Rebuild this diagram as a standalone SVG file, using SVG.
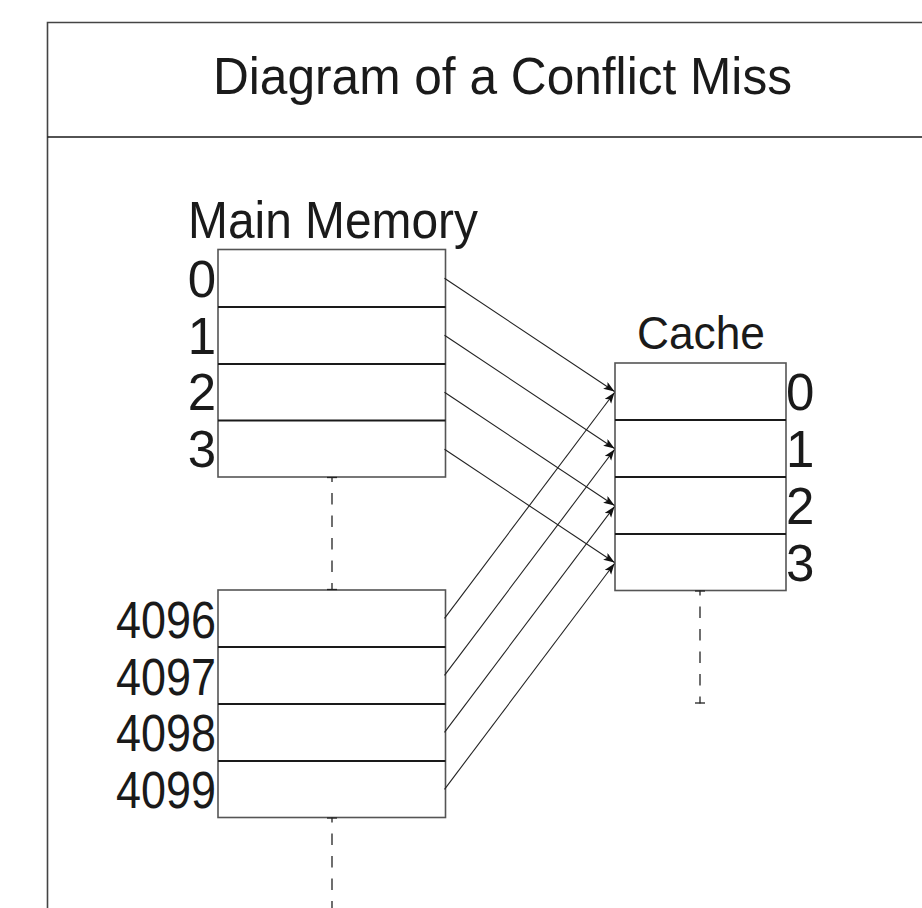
<svg xmlns="http://www.w3.org/2000/svg" width="922" height="908" viewBox="0 0 922 908">
  <style>
    .frame { fill: none; stroke: #444; stroke-width: 1.6; }
    .sep { stroke: #1a1a1a; stroke-width: 1.6; }
    .box { fill: #fff; stroke: #555; stroke-width: 1.6; }
    .row { stroke: #1a1a1a; stroke-width: 1.8; }
    .lbl { font-family: "Liberation Sans", Arial, sans-serif; fill: #1a1a1a; }
    .dash { stroke: #222; stroke-width: 1.3; fill: none; stroke-dasharray: 11.5 11; }
    .tick { stroke: #222; stroke-width: 1.3; }
    .arr { stroke: #222; stroke-width: 1.1; fill: none; marker-end: url(#head); }
  </style>
  <defs>
    <marker id="head" markerUnits="userSpaceOnUse" markerWidth="13" markerHeight="10" refX="11" refY="4" orient="auto">
      <path d="M0,0 L11,4 L0,8 L2.5,4 z" fill="#111"/>
    </marker>
  </defs>

  <rect width="922" height="908" fill="#fff"/>

  <!-- outer frame and title band -->
  <g id="frame">
    <path class="frame" d="M922,22.5 H47.5 V908"/>
    <line class="sep" x1="47.5" y1="137" x2="922" y2="137"/>
    <text class="lbl" x="213" y="94" font-size="52" textLength="579" lengthAdjust="spacingAndGlyphs">Diagram of a Conflict Miss</text>
  </g>

  <!-- main memory, first block -->
  <g id="memory-top">
    <text class="lbl" x="188" y="238" font-size="52" textLength="290" lengthAdjust="spacingAndGlyphs">Main Memory</text>
    <rect class="box" x="218" y="249.5" width="227.5" height="227.5"/>
    <line class="row" x1="218" y1="307" x2="445.5" y2="307"/>
    <line class="row" x1="218" y1="364" x2="445.5" y2="364"/>
    <line class="row" x1="218" y1="420.5" x2="445.5" y2="420.5"/>
    <text class="lbl" x="216" y="297" font-size="51" text-anchor="end">0</text>
    <text class="lbl" x="216" y="353.5" font-size="51" text-anchor="end">1</text>
    <text class="lbl" x="216" y="410" font-size="51" text-anchor="end">2</text>
    <text class="lbl" x="216" y="467" font-size="51" text-anchor="end">3</text>
  </g>

  <!-- main memory, second block -->
  <g id="memory-bottom">
    <rect class="box" x="218" y="590" width="227.5" height="227.5"/>
    <line class="row" x1="218" y1="647" x2="445.5" y2="647"/>
    <line class="row" x1="218" y1="704" x2="445.5" y2="704"/>
    <line class="row" x1="218" y1="761" x2="445.5" y2="761"/>
    <text class="lbl" x="116" y="637.5" font-size="51" textLength="100" lengthAdjust="spacingAndGlyphs">4096</text>
    <text class="lbl" x="116" y="694.5" font-size="51" textLength="100" lengthAdjust="spacingAndGlyphs">4097</text>
    <text class="lbl" x="116" y="751" font-size="51" textLength="100" lengthAdjust="spacingAndGlyphs">4098</text>
    <text class="lbl" x="116" y="808" font-size="51" textLength="100" lengthAdjust="spacingAndGlyphs">4099</text>
  </g>

  <!-- cache -->
  <g id="cache">
    <text class="lbl" x="637" y="349" font-size="46" textLength="128" lengthAdjust="spacingAndGlyphs">Cache</text>
    <rect class="box" x="615" y="363" width="171" height="227.5"/>
    <line class="row" x1="615" y1="420" x2="786" y2="420"/>
    <line class="row" x1="615" y1="477" x2="786" y2="477"/>
    <line class="row" x1="615" y1="534" x2="786" y2="534"/>
    <text class="lbl" x="786" y="410" font-size="51">0</text>
    <text class="lbl" x="786" y="467" font-size="51">1</text>
    <text class="lbl" x="786" y="524" font-size="51">2</text>
    <text class="lbl" x="786" y="580.5" font-size="51">3</text>
  </g>

  <!-- elisions between blocks -->
  <g id="elisions">
    <line class="dash" x1="332" y1="477" x2="332" y2="590" stroke-dashoffset="6.5"/>
    <line class="tick" x1="327" y1="477.5" x2="337" y2="477.5"/>
    <line class="tick" x1="327" y1="589.5" x2="337" y2="589.5"/>
    <line class="dash" x1="332" y1="817.5" x2="332" y2="908" stroke-dashoffset="6.5"/>
    <line class="tick" x1="327" y1="818" x2="337" y2="818"/>
    <line class="dash" x1="700" y1="590.5" x2="700" y2="703.5" stroke-dashoffset="6.5"/>
    <line class="tick" x1="695" y1="591" x2="705" y2="591"/>
    <line class="tick" x1="695" y1="703" x2="705" y2="703"/>
  </g>

  <!-- mapping arrows -->
  <g id="connectors">
    <line class="arr" x1="444.5" y1="278.3" x2="614.5" y2="391.5"/>
    <line class="arr" x1="444.5" y1="335.3" x2="614.5" y2="448.5"/>
    <line class="arr" x1="444.5" y1="392.3" x2="614.5" y2="505.5"/>
    <line class="arr" x1="444.5" y1="449.3" x2="614.5" y2="562.5"/>
    <line class="arr" x1="444.5" y1="618.3" x2="614.5" y2="392.5"/>
    <line class="arr" x1="444.5" y1="675.3" x2="614.5" y2="449.5"/>
    <line class="arr" x1="444.5" y1="732.3" x2="614.5" y2="506.5"/>
    <line class="arr" x1="444.5" y1="789.3" x2="614.5" y2="563.5"/>
  </g>
</svg>
